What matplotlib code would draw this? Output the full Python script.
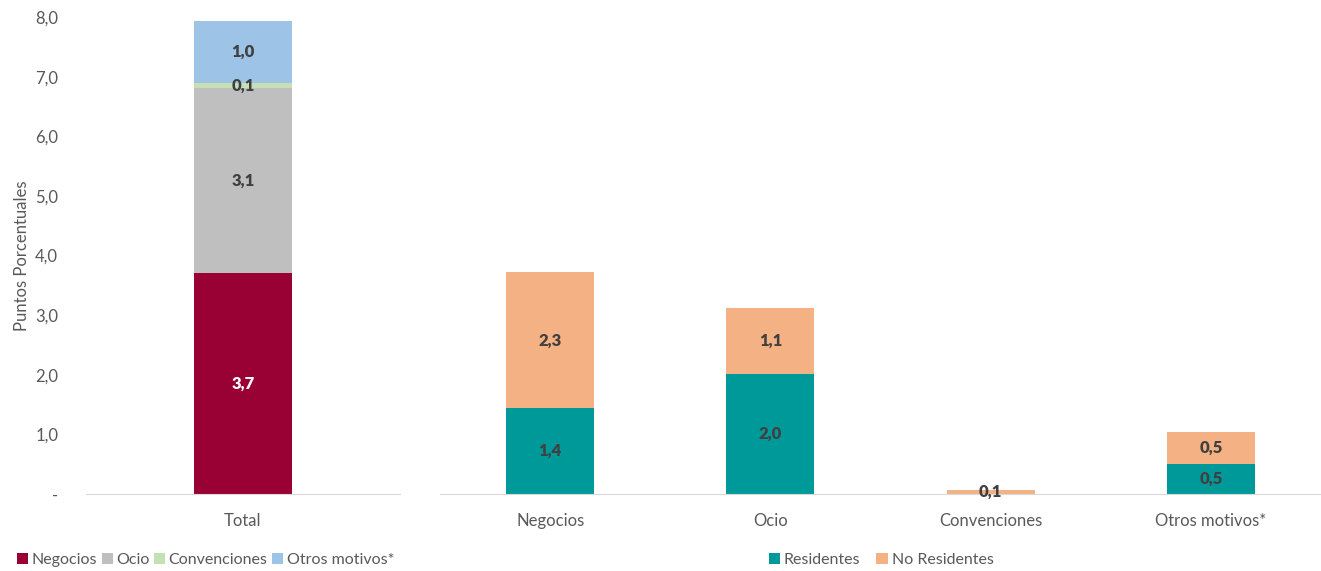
import numpy as np
import matplotlib.pyplot as plt

plt.rcParams['font.family'] = ['Lato', 'DejaVu Sans']

# Left panel: total by motive
total_label = ['Total']
motivos = ['Negocios', 'Ocio', 'Convenciones', 'Otros motivos*']
total_vals = [3.71, 3.10, 0.09, 1.04]
motivo_colors = ['#990033', '#BFBFBF', '#C5E0B4', '#9DC3E6']
motivo_text = ['white', '#404040', '#404040', '#404040']

# Right panel: residents vs non residents per motive
categorias = ['Negocios', 'Ocio', 'Convenciones', 'Otros motivos*']
residentes = [1.44, 2.01, 0.0, 0.50]
no_residentes = [2.28, 1.11, 0.07, 0.54]
res_colors = ['#009999', '#F4B183']

yticks = [0, 1, 2, 3, 4, 5, 6, 7, 8]
ytick_labels = ['-', '1,0', '2,0', '3,0', '4,0', '5,0', '6,0', '7,0', '8,0']

fig = plt.figure(figsize=(13.21, 5.71), dpi=100)
ax1 = fig.add_axes([0.0651, 0.1348, 0.2377, 0.8354])
ax2 = fig.add_axes([0.3331, 0.1348, 0.6669, 0.8354])

txt_col = '#595959'
lab_col = '#404040'

def fmt(v):
    return f'{v:.1f}'.replace('.', ',')

# left stacked bar
bottom = 0
handles1 = []
for v, c, tc, name in zip(total_vals, motivo_colors, motivo_text, motivos):
    b = ax1.bar(0, v, bottom=bottom, width=0.315, color=c, label=name)
    handles1.append(b)
    ax1.text(0, bottom + v / 2, fmt(v), ha='center', va='center',
             fontsize=12, fontweight='heavy', color=tc)
    bottom += v
ax1.set_xlim(-0.5, 0.5)
ax1.set_xticks([0])
ax1.set_xticklabels(total_label)

# right stacked bars
x = np.arange(len(categorias))
b1 = ax2.bar(x, residentes, width=0.4, color=res_colors[0], label='Residentes')
b2 = ax2.bar(x, no_residentes, width=0.4, bottom=residentes, color=res_colors[1],
             label='No Residentes')
for i in range(len(categorias)):
    if residentes[i] > 0:
        ax2.text(x[i], residentes[i] / 2, fmt(residentes[i]), ha='center', va='center',
                 fontsize=12, fontweight='heavy', color=lab_col)
    ax2.text(x[i], residentes[i] + no_residentes[i] / 2, fmt(no_residentes[i]),
             ha='center', va='center', fontsize=12, fontweight='heavy', color=lab_col)
ax2.set_xlim(-0.5, len(categorias) - 0.5)
ax2.set_xticks(x)
ax2.set_xticklabels(categorias)

for ax in (ax1, ax2):
    ax.set_ylim(0, 8)
    for s in ['top', 'right', 'left']:
        ax.spines[s].set_visible(False)
    ax.spines['bottom'].set_color('#D9D9D9')
    ax.tick_params(axis='x', length=0, pad=14, labelsize=12, labelcolor=txt_col)
    ax.set_facecolor('none')

ax1.set_yticks(yticks)
ax1.set_yticklabels(ytick_labels)
ax1.tick_params(axis='y', length=0, pad=20, labelsize=12, labelcolor=txt_col)
ax1.set_ylabel('Puntos Porcentuales', fontsize=12, color=txt_col, labelpad=4)
ax2.set_yticks([])

fig.legend(handles=handles1, loc='center left', bbox_to_anchor=(0.002, 0.019),
           ncol=4, frameon=False, fontsize=11.5, handlelength=0.7, handleheight=0.7,
           handletextpad=0.2, columnspacing=0.3, labelcolor=txt_col)
fig.legend(handles=[b1, b2], loc='center', bbox_to_anchor=(0.667, 0.019),
           ncol=2, frameon=False, fontsize=11.5, handlelength=0.7, handleheight=0.7,
           handletextpad=0.25, columnspacing=1.0, labelcolor=txt_col)

fig.savefig('out.png', dpi=100)
